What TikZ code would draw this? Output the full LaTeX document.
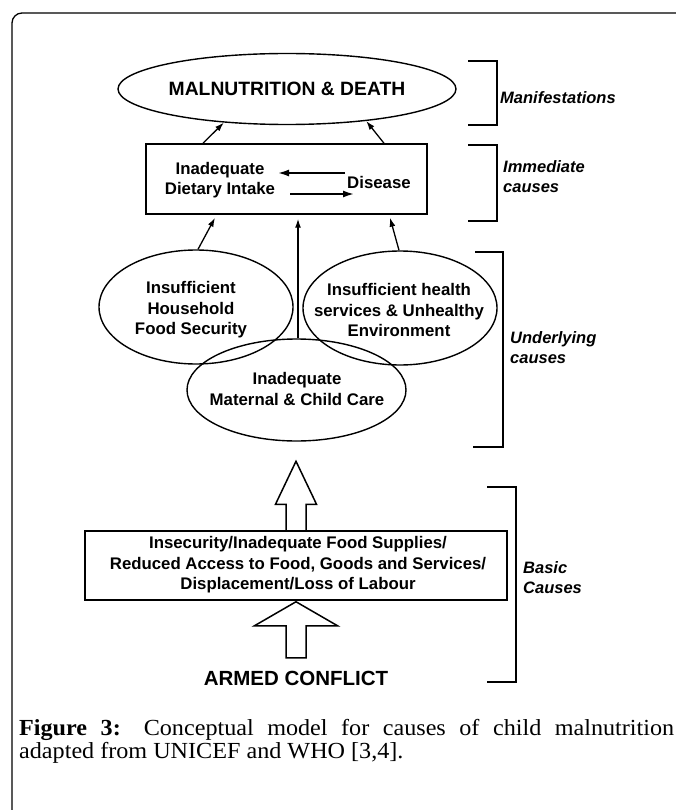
\documentclass[tikz,border=0pt]{standalone}
\usepackage{fontspec}
\setmainfont{Liberation Serif}
\newfontfamily\dsans{Liberation Sans}
\newfontfamily\capfont[FakeStretch=1.05]{Liberation Serif}
\usetikzlibrary{shapes.geometric,arrows.meta,calc}
\begin{document}
\begin{tikzpicture}[x=1pt,y=-1pt,
  lw/.style={line width=1.5pt},
  ell/.style={ellipse,draw,line width=1.4pt,inner sep=0pt},
  lbl/.style={font=\dsans\bfseries\fontsize{16.8}{20.5}\selectfont,align=center,inner sep=0pt},
  side/.style={font=\dsans\bfseries\itshape\fontsize{16.5}{20}\selectfont,align=left,anchor=west,inner sep=0pt},
  arr/.style={line width=1.3pt,-{Latex[length=9pt,width=6pt]}},
  arrb/.style={line width=1.7pt,-{Latex[length=11pt,width=7pt]}},
  brk/.style={line width=1.5pt},
]
\useasboundingbox (0,0) rectangle (675,810);
\draw[line width=1.3pt, rounded corners=10pt] (12,13) rectangle (720,860);

% Manifestations
\node[ell,minimum width=338pt,minimum height=71pt] (md) at (287,89) {};
\node[lbl,font=\dsans\bfseries\fontsize{19.3}{22}\selectfont] (mdt) at (md) {MALNUTRITION \& DEATH};

% Immediate causes
\node[draw,lw,minimum width=281pt,minimum height=70pt,inner sep=0pt] (imm) at (286.5,179) {};
\node[lbl] (ina) at (220,180) {Inadequate\\Dietary Intake};
\node[lbl] (dis) at (379,182) {Disease};
\coordinate (a1) at (345,173);
\coordinate (a2) at (278,173);
\coordinate (b1) at (290,194);
\coordinate (b2) at (354,194);
\draw[arrb] (a1) -- (a2);
\draw[arrb] (b1) -- (b2);
\draw[arr] ($(imm.north)+(-83.5,0)$) -- (md.208);
\draw[arr] ($(imm.north)+(97.5,0)$) -- (md.338);

% Underlying causes
\node[ell,minimum width=194pt,minimum height=114pt] (hfs) at (196,307) {};
\node[ell,minimum width=194pt,minimum height=114pt] (hse) at (400,308) {};
\node[ell,minimum width=219pt,minimum height=102pt] (mcc) at (296.5,390) {};
\node[lbl] (hfst) at (191,310) {Insufficient\\Household\\Food Security};
\node[lbl] (hset) at (399,310) {Insufficient health\\services \& Unhealthy\\Environment};
\node[lbl] (mcct) at (297,389) {Inadequate\\Maternal \& Child Care};
\draw[arr] ($(hfs.north)+(2,0)$) -- ($(imm.south)+(-71.5,3)$);
\draw[arr] ($(mcc.north)+(1.5,0)$) -- ($(mcc.north|-imm.south)+(1.5,4)$);
\draw[arr] ($(hse.north)+(-1,0)$) -- ($(imm.south)+(103.5,3)$);

% Basic causes
\node[draw,lw,minimum width=422pt,minimum height=69pt,inner sep=0pt] (bas) at (296,565.5) {};
\node[lbl] (bast) at (298,565) {Insecurity/Inadequate Food Supplies/\\Reduced Access to Food, Goods and Services/\\Displacement/Loss of Labour};
\draw[lw,line join=miter] ($(bas.north)+(-10,0)$) -- ++(0,-26) -- ++(-10.5,0) -- ++(20.5,-43) -- ++(20.5,43) -- ++(-10.5,0) -- ++(0,26);
\node[lbl,font=\dsans\bfseries\fontsize{20.5}{24}\selectfont] (war) at (296,678) {ARMED CONFLICT};
\draw[lw,line join=miter] ($(bas.south)+(-10,57)$) -- ++(0,-32) -- ++(-31.5,0) -- ++(41.5,-24) -- ++(41.5,24) -- ++(-31.5,0) -- ++(0,32) -- cycle;

% Brackets
\draw[brk] (468,61) -- (497,61) -- (497,125) -- (468,125);
\draw[brk] (468,145) -- (497,145) -- (497,221) -- (468,221);
\draw[brk] (475,252) -- (503,252) -- (503,447) -- (473,447);
\draw[brk] (487,487) -- (516,487) -- (516,682) -- (487,682);
\node[side] (l1) at (500,98) {Manifestations};
\node[side] (l2) at (503,177) {Immediate\\causes};
\node[side] (l3) at (510,348) {Underlying\\causes};
\node[side] (l4) at (523,578) {Basic\\Causes};

% Caption
\node[anchor=north west,text width=655pt,inner sep=0pt,align=justify,font=\capfont\fontsize{23}{23.5}\selectfont] (cap) at (19,719)
 {\textbf{Figure 3:} Conceptual model for causes of child malnutrition\linebreak adapted from UNICEF and WHO [3,4].};
\end{tikzpicture}
\end{document}
